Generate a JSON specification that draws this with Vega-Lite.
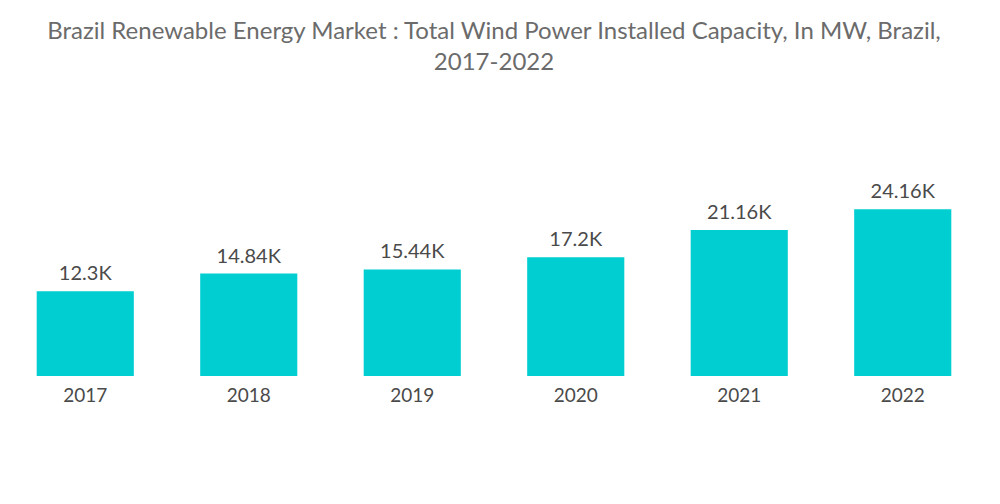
{
  "$schema": "https://vega.github.io/schema/vega-lite/v6.json",
  "autosize": {"type": "none"},
  "width": 980,
  "height": 207,
  "padding": {"left": 4, "top": 169, "right": 16, "bottom": 128},
  "background": "#ffffff",
  "title": {
    "text": ["Brazil Renewable Energy Market : Total Wind Power Installed Capacity, In MW, Brazil,", "2017-2022"],
    "anchor": "middle",
    "font": "Lato",
    "fontSize": 24,
    "fontWeight": "normal",
    "color": "#6b6b6b",
    "lineHeight": 31,
    "offset": 94
  },
  "data": {
    "values": [
      {"year": "2017", "value": 12300},
      {"year": "2018", "value": 14840},
      {"year": "2019", "value": 15440},
      {"year": "2020", "value": 17200},
      {"year": "2021", "value": 21160},
      {"year": "2022", "value": 24160}
    ]
  },
  "transform": [
    {"calculate": "replace(format(datum.value, '.4~s'), 'k', 'K')", "as": "label"}
  ],
  "encoding": {
    "x": {
      "field": "year",
      "type": "nominal",
      "scale": {"paddingInner": 0.406, "paddingOuter": 0.2},
      "axis": {
        "title": null,
        "labelAngle": 0,
        "domain": false,
        "ticks": false,
        "labelFont": "Lato",
        "labelFontSize": 19,
        "labelColor": "#4a4a4a",
        "labelPadding": 10
      }
    },
    "y": {
      "field": "value",
      "type": "quantitative",
      "scale": {"domain": [0, 30000]},
      "axis": null
    }
  },
  "layer": [
    {"mark": {"type": "bar", "color": "#00CED1"}},
    {
      "mark": {"type": "text", "baseline": "bottom", "dy": -7, "font": "Lato", "fontSize": 20, "color": "#4a4a4a"},
      "encoding": {"text": {"field": "label"}}
    }
  ],
  "config": {"view": {"stroke": null}}
}
